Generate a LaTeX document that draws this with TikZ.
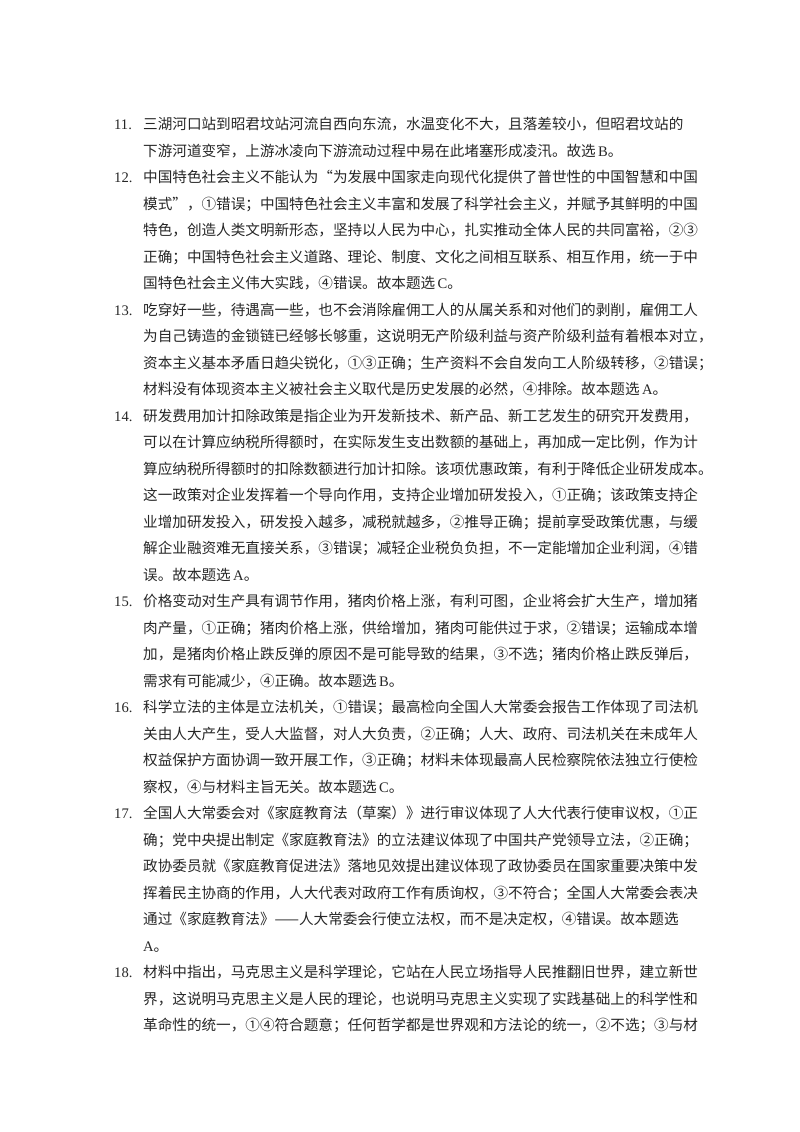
\documentclass[tikz,border=0pt]{standalone}
\usepackage{fontspec}
\setmainfont{Noto Sans CJK SC}
\newfontfamily\latf{Liberation Serif}
\newcommand{\lat}[1]{{\latf\,#1}}
\XeTeXlinebreaklocale "zh"
\XeTeXlinebreakskip=0pt plus 3pt minus 2pt
\tikzset{
  ln/.style={anchor=base west, inner sep=0pt, font=\fontsize{14.6}{26.5}\selectfont, text=black!85},
  num/.style={anchor=base west, inner sep=0pt, font=\latf\fontsize{14.6}{26.5}\selectfont, text=black!85}
}
\hbadness=10000 \hfuzz=50pt
\newcommand{\jl}[3]{\node[ln] (#1) at (143,{-(129.5+26.5*#2)}) {\hbox to 547pt{#3}};}
\newcommand{\nl}[3]{\node[ln] (#1) at (143,{-(129.5+26.5*#2)}) {#3};}
\newcommand{\nm}[3]{\node[num] (#1) at (114,{-(129.5+26.5*#2)}) {#3};}
\begin{document}
\begin{tikzpicture}[x=1pt,y=1pt]
\useasboundingbox (0,0) rectangle (800,-1132);
\nm{n11}{0}{11.}
\jl{a1}{0}{三湖河口站到昭君坟站河流自西向东流，水温变化不大，且落差较小，但昭君坟站的}
\nl{a2}{1}{下游河道变窄，上游冰凌向下游流动过程中易在此堵塞形成凌汛。故选\lat{B}。}
\nm{n12}{2}{12.}
\jl{b1}{2}{中国特色社会主义不能认为“为发展中国家走向现代化提供了普世性的中国智慧和中国}
\jl{b2}{3}{模式”，①错误；中国特色社会主义丰富和发展了科学社会主义，并赋予其鲜明的中国}
\jl{b3}{4}{特色，创造人类文明新形态，坚持以人民为中心，扎实推动全体人民的共同富裕，②③}
\jl{b4}{5}{正确；中国特色社会主义道路、理论、制度、文化之间相互联系、相互作用，统一于中}
\nl{b5}{6}{国特色社会主义伟大实践，④错误。故本题选\lat{C}。}
\nm{n13}{7}{13.}
\jl{c1}{7}{吃穿好一些，待遇高一些，也不会消除雇佣工人的从属关系和对他们的剥削，雇佣工人}
\jl{c2}{8}{为自己铸造的金锁链已经够长够重，这说明无产阶级利益与资产阶级利益有着根本对立，}
\jl{c3}{9}{资本主义基本矛盾日趋尖锐化，①③正确；生产资料不会自发向工人阶级转移，②错误；}
\nl{c4}{10}{材料没有体现资本主义被社会主义取代是历史发展的必然，④排除。故本题选\lat{A}。}
\nm{n14}{11}{14.}
\jl{d1}{11}{研发费用加计扣除政策是指企业为开发新技术、新产品、新工艺发生的研究开发费用，}
\jl{d2}{12}{可以在计算应纳税所得额时，在实际发生支出数额的基础上，再加成一定比例，作为计}
\jl{d3}{13}{算应纳税所得额时的扣除数额进行加计扣除。该项优惠政策，有利于降低企业研发成本。}
\jl{d4}{14}{这一政策对企业发挥着一个导向作用，支持企业增加研发投入，①正确；该政策支持企}
\jl{d5}{15}{业增加研发投入，研发投入越多，减税就越多，②推导正确；提前享受政策优惠，与缓}
\jl{d6}{16}{解企业融资难无直接关系，③错误；减轻企业税负负担，不一定能增加企业利润，④错}
\nl{d7}{17}{误。故本题选\lat{A}。}
\nm{n15}{18}{15.}
\jl{e1}{18}{价格变动对生产具有调节作用，猪肉价格上涨，有利可图，企业将会扩大生产，增加猪}
\jl{e2}{19}{肉产量，①正确；猪肉价格上涨，供给增加，猪肉可能供过于求，②错误；运输成本增}
\jl{e3}{20}{加，是猪肉价格止跌反弹的原因不是可能导致的结果，③不选；猪肉价格止跌反弹后，}
\nl{e4}{21}{需求有可能减少，④正确。故本题选\lat{B}。}
\nm{n16}{22}{16.}
\jl{f1}{22}{科学立法的主体是立法机关，①错误；最高检向全国人大常委会报告工作体现了司法机}
\jl{f2}{23}{关由人大产生，受人大监督，对人大负责，②正确；人大、政府、司法机关在未成年人}
\jl{f3}{24}{权益保护方面协调一致开展工作，③正确；材料未体现最高人民检察院依法独立行使检}
\nl{f4}{25}{察权，④与材料主旨无关。故本题选\lat{C}。}
\nm{n17}{26}{17.}
\jl{g1}{26}{全国人大常委会对《家庭教育法（草案）》进行审议体现了人大代表行使审议权，①正}
\jl{g2}{27}{确；党中央提出制定《家庭教育法》的立法建议体现了中国共产党领导立法，②正确；}
\jl{g3}{28}{政协委员就《家庭教育促进法》落地见效提出建议体现了政协委员在国家重要决策中发}
\jl{g4}{29}{挥着民主协商的作用，人大代表对政府工作有质询权，③不符合；全国人大常委会表决}
\jl{g5}{30}{通过《家庭教育法》——人大常委会行使立法权，而不是决定权，④错误。故本题选}
\nl{g6}{31}{{\latf A}。}
\nm{n18}{32}{18.}
\jl{h1}{32}{材料中指出，马克思主义是科学理论，它站在人民立场指导人民推翻旧世界，建立新世}
\jl{h2}{33}{界，这说明马克思主义是人民的理论，也说明马克思主义实现了实践基础上的科学性和}
\jl{h3}{34}{革命性的统一，①④符合题意；任何哲学都是世界观和方法论的统一，②不选；③与材}
\end{tikzpicture}
\end{document}
